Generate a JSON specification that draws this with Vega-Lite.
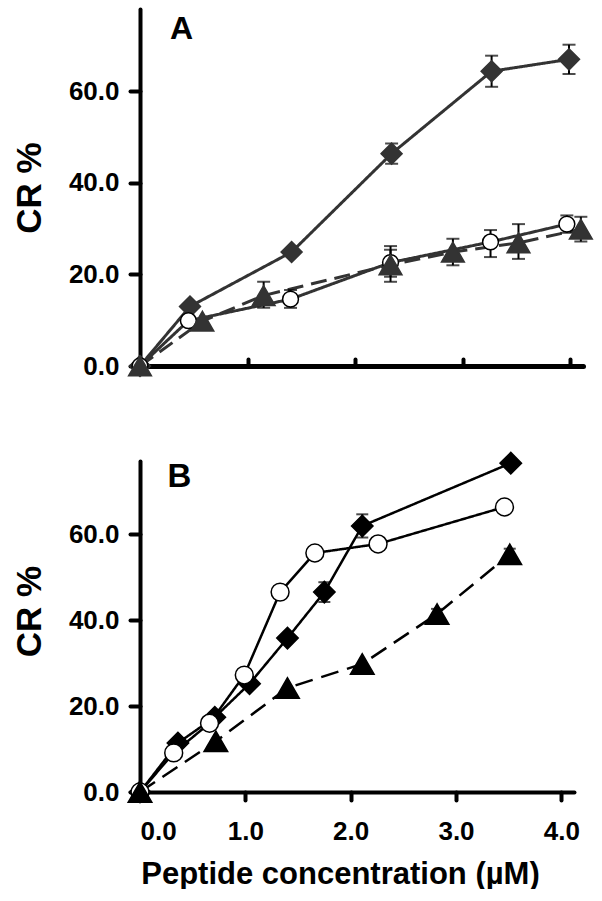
{
  "$schema": "https://vega.github.io/schema/vega-lite/v6.json",
  "padding": {"left": 12, "top": 9, "right": 0, "bottom": 0},
  "spacing": 69,
  "config": {
    "view": {"stroke": null},
    "font": "Liberation Sans",
    "axis": {
      "grid": false,
      "domainColor": "black",
      "domainWidth": 4,
      "domainCap": "round",
      "tickColor": "black",
      "tickWidth": 4,
      "tickCap": "round",
      "labelFont": "Liberation Sans",
      "labelFontSize": 26,
      "labelFontWeight": "bold",
      "labelColor": "black",
      "titleFont": "Liberation Sans",
      "titleFontWeight": "bold",
      "titleColor": "black"
    }
  },
  "resolve": {"scale": {"fill": "independent", "stroke": "independent", "shape": "independent", "size": "independent", "strokeDash": "independent"}},
  "datasets": {
    "a": [
      {"s": "diamond", "x": 0, "y": 0},
      {"s": "diamond", "x": 0.465, "y": 13.0},
      {"s": "diamond", "x": 1.41, "y": 24.9},
      {"s": "diamond", "x": 2.34, "y": 46.4, "lo": 44.2, "hi": 48.6},
      {"s": "diamond", "x": 3.27, "y": 64.4, "lo": 61.0, "hi": 67.8},
      {"s": "diamond", "x": 3.99, "y": 67.0, "lo": 63.8, "hi": 70.2},
      {"s": "circle", "x": 0, "y": 0},
      {"s": "circle", "x": 0.45, "y": 9.9},
      {"s": "circle", "x": 1.40, "y": 14.6, "lo": 12.7, "hi": 16.6},
      {"s": "circle", "x": 2.33, "y": 22.6, "lo": 19.5, "hi": 26.2},
      {"s": "circle", "x": 3.26, "y": 27.1, "lo": 23.8, "hi": 29.7},
      {"s": "circle", "x": 3.97, "y": 31.0, "lo": 29.1, "hi": 32.9},
      {"s": "triangle", "x": 0, "y": 0},
      {"s": "triangle", "x": 0.58, "y": 9.8},
      {"s": "triangle", "x": 1.15, "y": 15.4, "lo": 12.7, "hi": 18.4},
      {"s": "triangle", "x": 2.33, "y": 22.1, "lo": 18.4, "hi": 25.4},
      {"s": "triangle", "x": 2.91, "y": 24.9, "lo": 22.0, "hi": 27.8},
      {"s": "triangle", "x": 3.52, "y": 26.9, "lo": 23.4, "hi": 31.0},
      {"s": "triangle", "x": 4.10, "y": 29.9, "lo": 27.2, "hi": 32.6}
    ],
    "b": [
      {"s": "diamond", "x": 0, "y": 0},
      {"s": "diamond", "x": 0.36, "y": 11.4},
      {"s": "diamond", "x": 0.71, "y": 17.4},
      {"s": "diamond", "x": 1.04, "y": 25.2},
      {"s": "diamond", "x": 1.40, "y": 35.8},
      {"s": "diamond", "x": 1.75, "y": 46.5, "lo": 44.2, "hi": 48.8},
      {"s": "diamond", "x": 2.11, "y": 61.9, "lo": 59.2, "hi": 64.6},
      {"s": "diamond", "x": 3.52, "y": 76.5},
      {"s": "circle", "x": 0, "y": 0},
      {"s": "circle", "x": 0.32, "y": 9.1},
      {"s": "circle", "x": 0.66, "y": 16.0},
      {"s": "circle", "x": 0.99, "y": 27.2},
      {"s": "circle", "x": 1.33, "y": 46.5},
      {"s": "circle", "x": 1.66, "y": 55.6},
      {"s": "circle", "x": 2.26, "y": 57.7},
      {"s": "circle", "x": 3.46, "y": 66.3},
      {"s": "triangle", "x": 0, "y": 0},
      {"s": "triangle", "x": 0.72, "y": 11.8},
      {"s": "triangle", "x": 1.40, "y": 24.2},
      {"s": "triangle", "x": 2.11, "y": 29.8},
      {"s": "triangle", "x": 2.82, "y": 41.4, "lo": 40.2, "hi": 42.6},
      {"s": "triangle", "x": 3.51, "y": 55.3, "lo": 54.0, "hi": 56.6}
    ],
    "labA": [{"t": "A", "x": 0.28, "y": 71.5}],
    "labB": [{"t": "B", "x": 0.26, "y": 71.0}]
  },
  "vconcat": [
    {
      "width": 443,
      "height": 357,
      "layer": [
        {
          "data": {"name": "a"},
          "mark": {"type": "line", "strokeWidth": 3, "color": "#333333"},
          "encoding": {
            "x": {"field": "x", "type": "quantitative", "scale": {"domain": [0, 4.12], "nice": false, "zero": false},
                  "axis": {"values": [1, 2, 3, 4], "labels": false, "title": null, "tickSize": -7, "domainWidth": 5}},
            "y": {"field": "y", "type": "quantitative", "scale": {"domain": [0, 78], "nice": false},
                  "axis": {"values": [0, 20, 40, 60], "format": ".1f", "tickSize": 10, "labelPadding": 11, "title": "CR %", "titleFontSize": 35, "titlePadding": 21}},
            "detail": {"field": "s"},
            "strokeDash": {"field": "s", "scale": {"domain": ["diamond", "circle", "triangle"], "range": [[1, 0], [1, 0], [16, 8]]}, "legend": null}
          }
        },
        {
          "data": {"name": "a"},
          "transform": [{"filter": "datum.hi != null"}],
          "mark": {"type": "rule", "strokeWidth": 2, "color": "black"},
          "encoding": {"x": {"field": "x", "type": "quantitative"}, "y": {"field": "lo", "type": "quantitative"}, "y2": {"field": "hi"}}
        },
        {
          "data": {"name": "a"},
          "transform": [{"filter": "datum.hi != null"}],
          "mark": {"type": "tick", "orient": "horizontal", "size": 13, "thickness": 2, "color": "black"},
          "encoding": {"x": {"field": "x", "type": "quantitative"}, "y": {"field": "hi", "type": "quantitative"}}
        },
        {
          "data": {"name": "a"},
          "transform": [{"filter": "datum.hi != null"}],
          "mark": {"type": "tick", "orient": "horizontal", "size": 13, "thickness": 2, "color": "black"},
          "encoding": {"x": {"field": "x", "type": "quantitative"}, "y": {"field": "lo", "type": "quantitative"}}
        },
        {
          "data": {"name": "a"},
          "mark": {"type": "point", "filled": true, "strokeWidth": 1.5, "opacity": 1},
          "encoding": {
            "x": {"field": "x", "type": "quantitative"},
            "y": {"field": "y", "type": "quantitative"},
            "shape": {"field": "s", "scale": {"domain": ["diamond", "circle", "triangle"], "range": ["diamond", "circle", "triangle-up"]}, "legend": null},
            "fill": {"field": "s", "scale": {"domain": ["diamond", "circle", "triangle"], "range": ["#333333", "#ffffff", "#333333"]}, "legend": null},
            "stroke": {"field": "s", "scale": {"domain": ["diamond", "circle", "triangle"], "range": ["#333333", "#000000", "#333333"]}, "legend": null},
            "size": {"field": "s", "type": "nominal", "scale": {"type": "ordinal", "domain": ["diamond", "circle", "triangle"], "range": [440, 250, 520]}, "legend": null}
          }
        },
        {
          "data": {"name": "labA"},
          "mark": {"type": "text", "align": "left", "baseline": "alphabetic", "fontSize": 32, "fontWeight": "bold", "color": "black"},
          "encoding": {"x": {"field": "x", "type": "quantitative"}, "y": {"field": "y", "type": "quantitative"}, "text": {"field": "t"}}
        }
      ]
    },
    {
      "width": 434,
      "height": 331,
      "layer": [
        {
          "data": {"name": "b"},
          "mark": {"type": "line", "strokeWidth": 2.5, "color": "black"},
          "encoding": {
            "x": {"field": "x", "type": "quantitative", "scale": {"domain": [0, 4.12], "nice": false, "zero": false},
                  "axis": {"values": [0, 1, 2, 3, 4], "format": ".1f", "tickSize": 8, "labelPadding": 18, "title": "Peptide concentration (µM)", "titleFontSize": 31, "titlePadding": 15, "titleX": 200}},
            "y": {"field": "y", "type": "quantitative", "scale": {"domain": [0, 77], "nice": false},
                  "axis": {"values": [0, 20, 40, 60], "format": ".1f", "tickSize": 10, "labelPadding": 11, "title": "CR %", "titleFontSize": 35, "titlePadding": 21, "titleY": 150}},
            "detail": {"field": "s"},
            "strokeDash": {"field": "s", "scale": {"domain": ["diamond", "circle", "triangle"], "range": [[1, 0], [1, 0], [18, 9]]}, "legend": null}
          }
        },
        {
          "data": {"name": "b"},
          "transform": [{"filter": "datum.hi != null"}],
          "mark": {"type": "rule", "strokeWidth": 2, "color": "black"},
          "encoding": {"x": {"field": "x", "type": "quantitative"}, "y": {"field": "lo", "type": "quantitative"}, "y2": {"field": "hi"}}
        },
        {
          "data": {"name": "b"},
          "transform": [{"filter": "datum.hi != null"}],
          "mark": {"type": "tick", "orient": "horizontal", "size": 12, "thickness": 2, "color": "black"},
          "encoding": {"x": {"field": "x", "type": "quantitative"}, "y": {"field": "hi", "type": "quantitative"}}
        },
        {
          "data": {"name": "b"},
          "transform": [{"filter": "datum.hi != null"}],
          "mark": {"type": "tick", "orient": "horizontal", "size": 12, "thickness": 2, "color": "black"},
          "encoding": {"x": {"field": "x", "type": "quantitative"}, "y": {"field": "lo", "type": "quantitative"}}
        },
        {
          "data": {"name": "b"},
          "mark": {"type": "point", "filled": true, "strokeWidth": 1.5, "opacity": 1},
          "encoding": {
            "x": {"field": "x", "type": "quantitative"},
            "y": {"field": "y", "type": "quantitative"},
            "shape": {"field": "s", "scale": {"domain": ["diamond", "circle", "triangle"], "range": ["diamond", "circle", "triangle-up"]}, "legend": null},
            "fill": {"field": "s", "scale": {"domain": ["diamond", "circle", "triangle"], "range": ["#000000", "#ffffff", "#000000"]}, "legend": null},
            "stroke": {"field": "s", "scale": {"domain": ["diamond", "circle", "triangle"], "range": ["#000000", "#000000", "#000000"]}, "legend": null},
            "size": {"field": "s", "type": "nominal", "scale": {"type": "ordinal", "domain": ["diamond", "circle", "triangle"], "range": [460, 320, 560]}, "legend": null}
          }
        },
        {
          "data": {"name": "labB"},
          "mark": {"type": "text", "align": "left", "baseline": "alphabetic", "fontSize": 33, "fontWeight": "bold", "color": "black"},
          "encoding": {"x": {"field": "x", "type": "quantitative"}, "y": {"field": "y", "type": "quantitative"}, "text": {"field": "t"}}
        }
      ]
    }
  ]
}
